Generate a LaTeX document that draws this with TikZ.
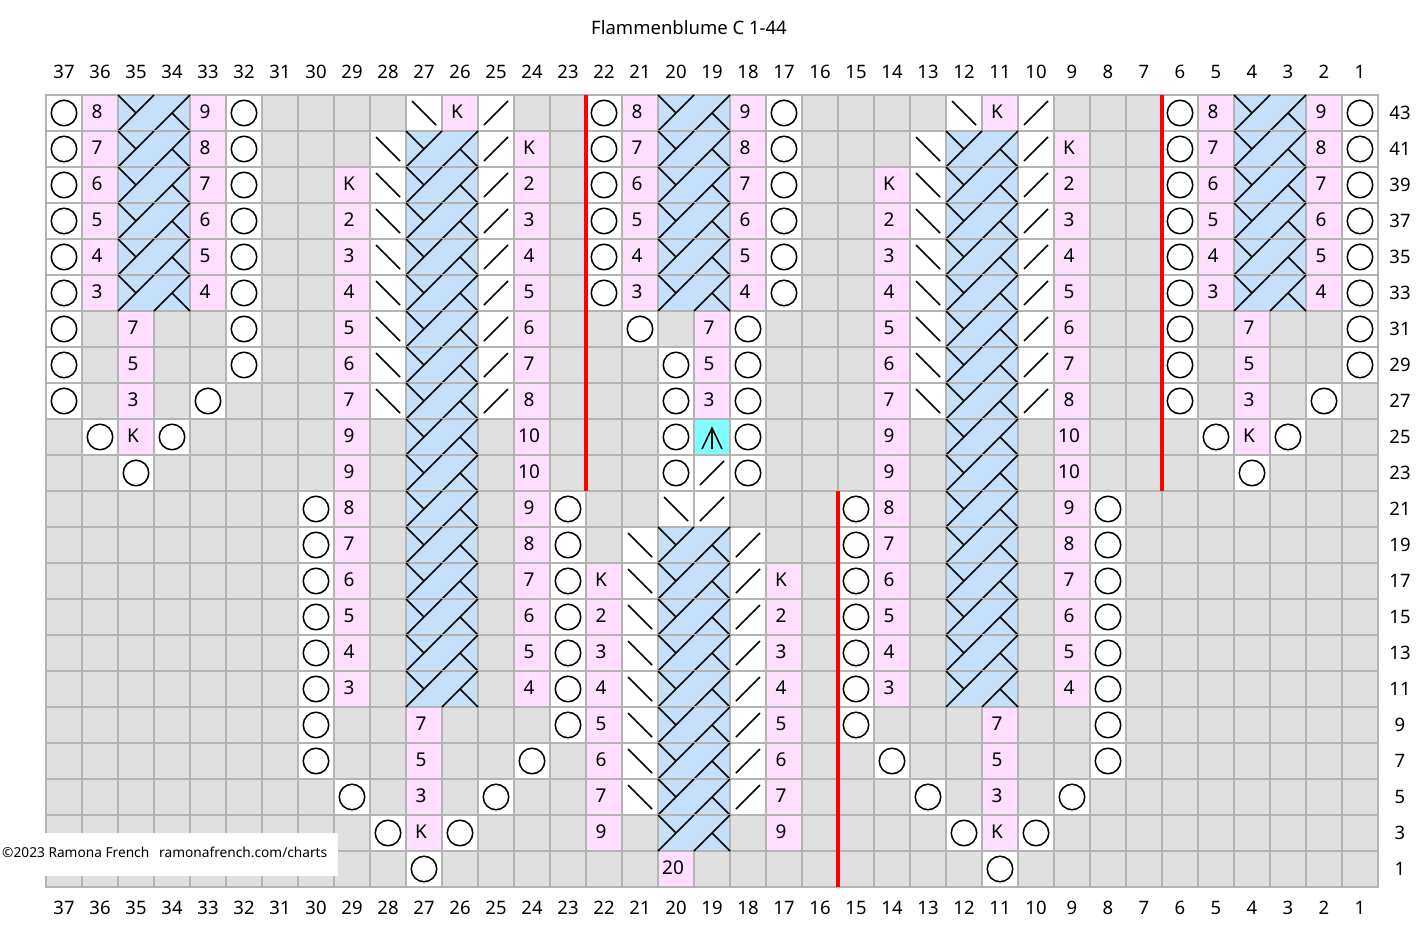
\documentclass[tikz,border=0pt]{standalone}
\usepackage{fontspec}
\setmainfont{Noto Sans}
\definecolor{gridc}{RGB}{180,180,180}
\definecolor{cellgray}{RGB}{224,224,224}
\definecolor{pinkc}{RGB}{255,222,255}
\definecolor{bluec}{RGB}{196,224,250}
\definecolor{cyanc}{RGB}{128,255,255}
\newcommand{\cellat}[3]{\filldraw[cellbox=#3] ({46+(37-#1)*36},{95+#2*36}) rectangle ++(36,36);}
\begin{document}
\begin{tikzpicture}[x=1pt,y=-1pt,
  gridline/.style={draw=gridc,line width=2pt,line cap=rect},
  cellbox/.style={fill=#1,draw=gridc,line width=2pt},
  yo/.style={circle,draw=black,line width=1.5pt,minimum size=25.5pt,inner sep=0pt},
  sym/.style={draw=black,line width=1.5pt},
  cabline/.style={draw=black,line width=1.7pt},
  numtxt/.style={font=\fontsize{19}{22}\selectfont,inner sep=0pt},
  lbl/.style={font=\fontsize{18.5}{22}\selectfont,inner sep=0pt},
  redline/.style={draw=red,line width=3.2pt}]
\useasboundingbox (0,0) rectangle (1422,932);
\fill[white] (0,0) rectangle (1422,932);
% grid background
\fill[cellgray] (46,95) rectangle (1378,887);
\foreach \i in {0,...,37} \draw[gridline] ({46+\i*36},95) -- ({46+\i*36},887);
\foreach \j in {0,...,22} \draw[gridline] (46,{95+\j*36}) -- (1378,{95+\j*36});
% yarn overs
\foreach \k/\cl in {0/{37,32,22,17,6,1},1/{37,32,22,17,6,1},2/{37,32,22,17,6,1},3/{37,32,22,17,6,1},4/{37,32,22,17,6,1},5/{37,32,22,17,6,1},
  6/{37,32,21,18,6,1},7/{37,32,20,18,6,1},8/{37,33,20,18,6,2},9/{36,34,20,18,5,3},10/{35,20,18,4},
  11/{30,23,15,8},12/{30,23,15,8},13/{30,23,15,8},14/{30,23,15,8},15/{30,23,15,8},16/{30,23,15,8},17/{30,23,15,8},
  18/{30,24,14,8},19/{29,25,13,9},20/{28,26,12,10},21/{27,11}}{
  \foreach \c in \cl {
    \cellat{\c}{\k}{white}
    \node[yo] (yo-\c-\k) at ({64+(37-\c)*36},{113+\k*36}) {};
  }
}
% pink numbered cells
\foreach \c/\k/\t in {36/0/8,33/0/9,26/0/K,21/0/8,18/0/9,11/0/K,5/0/8,2/0/9,
  36/1/7,33/1/8,24/1/K,21/1/7,18/1/8,9/1/K,5/1/7,2/1/8,
  36/2/6,33/2/7,29/2/K,24/2/2,21/2/6,18/2/7,14/2/K,9/2/2,5/2/6,2/2/7,
  36/3/5,33/3/6,29/3/2,24/3/3,21/3/5,18/3/6,14/3/2,9/3/3,5/3/5,2/3/6,
  36/4/4,33/4/5,29/4/3,24/4/4,21/4/4,18/4/5,14/4/3,9/4/4,5/4/4,2/4/5,
  36/5/3,33/5/4,29/5/4,24/5/5,21/5/3,18/5/4,14/5/4,9/5/5,5/5/3,2/5/4,
  35/6/7,29/6/5,24/6/6,19/6/7,14/6/5,9/6/6,4/6/7,
  35/7/5,29/7/6,24/7/7,19/7/5,14/7/6,9/7/7,4/7/5,
  35/8/3,29/8/7,24/8/8,19/8/3,14/8/7,9/8/8,4/8/3,
  35/9/K,29/9/9,24/9/10,14/9/9,9/9/10,4/9/K,
  29/10/9,24/10/10,14/10/9,9/10/10,
  29/11/8,24/11/9,14/11/8,9/11/9,
  29/12/7,24/12/8,14/12/7,9/12/8,
  29/13/6,24/13/7,22/13/K,17/13/K,14/13/6,9/13/7,
  29/14/5,24/14/6,22/14/2,17/14/2,14/14/5,9/14/6,
  29/15/4,24/15/5,22/15/3,17/15/3,14/15/4,9/15/5,
  29/16/3,24/16/4,22/16/4,17/16/4,14/16/3,9/16/4,
  27/17/7,22/17/5,17/17/5,11/17/7,
  27/18/5,22/18/6,17/18/6,11/18/5,
  27/19/3,22/19/7,17/19/7,11/19/3,
  27/20/K,22/20/9,17/20/9,11/20/K,
  20/21/20}{
  \cellat{\c}{\k}{pinkc}
  \node[numtxt] (pk-\c-\k) at ({61+(37-\c)*36},{112+\k*36}) {\t};
}
% left-leaning decreases
\foreach \c/\k in {27/0,12/0,28/1,13/1,28/2,13/2,28/3,13/3,28/4,13/4,28/5,13/5,28/6,13/6,28/7,13/7,28/8,13/8,
  20/11,21/12,21/13,21/14,21/15,21/16,21/17,21/18,21/19}{
  \cellat{\c}{\k}{white}
  \draw[sym] ({52+(37-\c)*36},{101+\k*36}) -- ++(24,24);
}
% right-leaning decreases
\foreach \c/\k in {25/0,10/0,25/1,10/1,25/2,10/2,25/3,10/3,25/4,10/4,25/5,10/5,25/6,10/6,25/7,10/7,25/8,10/8,
  19/10,19/11,18/12,18/13,18/14,18/15,18/16,18/17,18/18,18/19}{
  \cellat{\c}{\k}{white}
  \draw[sym] ({52+(37-\c)*36},{125+\k*36}) -- ++(24,-24);
}
% cables
\foreach \c/\k in {35/0,20/0,4/0,35/1,20/1,4/1,35/2,20/2,4/2,35/3,20/3,4/3,35/4,20/4,4/4,35/5,20/5,4/5,
  27/1,12/1,27/2,12/2,27/3,12/3,27/4,12/4,27/5,12/5,27/6,12/6,27/7,12/7,27/8,12/8,
  27/9,12/9,27/10,12/10,27/11,12/11,27/12,12/12,27/13,12/13,27/14,12/14,27/15,12/15,27/16,12/16,
  20/12,20/13,20/14,20/15,20/16,20/17,20/18,20/19,20/20}{
  \begin{scope}[shift={({46+(37-\c)*36},{95+\k*36})}]
    \filldraw[cellbox=bluec] (0,0) rectangle (72,36);
    \draw[cabline] (0,36) -- (36,0);
    \draw[cabline] (36,36) -- (72,0);
    \draw[cabline] (0,0) -- (18,18);
    \draw[cabline] (54,18) -- (72,36);
  \end{scope}
}
% central double decrease
\cellat{19}{9}{cyanc}
\begin{scope}[shift={({46+18*36},{95+9*36})}]
  \draw[sym] (8,30) -- (18,9) -- (28,30);
  \draw[sym] (18,9) -- (18,30);
\end{scope}
% red repeat lines
\draw[redline] (586,95) -- (586,491);
\draw[redline] (1162,95) -- (1162,491);
\draw[redline] (838,491) -- (838,887);
% labels
\node[lbl] (title) at (689,28) {Flammenblume C 1-44};
\foreach \c in {1,...,37}{
  \node[lbl] (ct-\c) at ({64+(37-\c)*36},72) {\c};
  \node[lbl] (cb-\c) at ({64+(37-\c)*36},908) {\c};
}
\foreach \k [evaluate=\k as \r using int(43-2*\k)] in {0,...,21}{
  \node[lbl] (rl-\k) at (1400,{113+\k*36}) {\r};
}
% copyright
\fill[white] (0,833) rectangle (338,876);
\node[font=\fontsize{13.7}{16}\selectfont,anchor=west,inner sep=0pt] (copy) at (2,852) {©2023 Ramona French\hspace{10pt}ramonafrench.com/charts};
\end{tikzpicture}
\end{document}
